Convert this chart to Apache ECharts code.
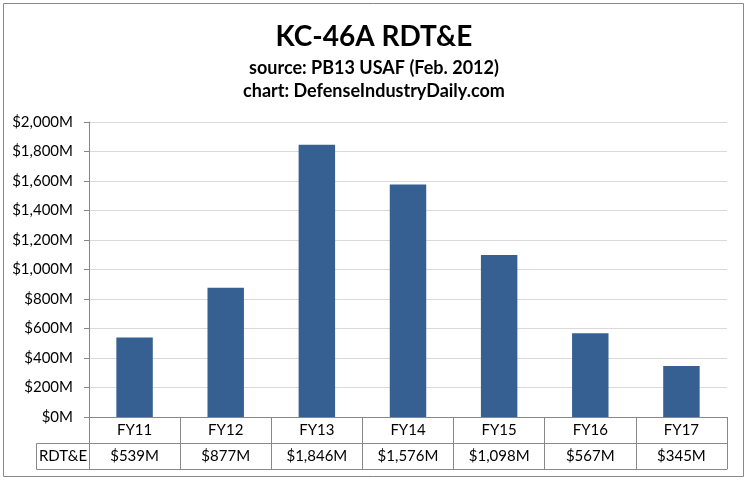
<!DOCTYPE html>
<html>
<head>
<meta charset="utf-8">
<title>KC-46A RDT&amp;E</title>
<script src="https://cdn.jsdelivr.net/npm/echarts@6/dist/echarts.min.js"></script>
<style>
    html, body { margin: 0; padding: 0; background: #fff; }
    #chart { width: 748px; height: 480px; }
</style>
</head>
<body>
<div id="chart"></div>
<script>
    // values in $M
    var years = ['FY11', 'FY12', 'FY13', 'FY14', 'FY15', 'FY16', 'FY17'];
    var rdte = [539, 877, 1846, 1576, 1098, 567, 345];
    var seriesName = 'RDT&E';

    var font = 'Lato, "Open Sans", sans-serif';
    var lineColor = '#888888';

    function money(v) {
        return '$' + Number(v).toLocaleString('en-US') + 'M';
    }

    var myChart = echarts.init(document.getElementById('chart'));
    myChart.setOption({
        animation: false,
        textStyle: { fontFamily: font },
        title: {
            text: 'KC-46A RDT&E',
            subtext: 'source: PB13 USAF (Feb. 2012)\nchart: DefenseIndustryDaily.com',
            left: 'center',
            top: 18,
            itemGap: 6,
            textStyle: { fontSize: 28, fontWeight: 'bold', color: '#000', fontFamily: font },
            subtextStyle: { fontSize: 18, fontWeight: 'bold', color: '#000', lineHeight: 23, fontFamily: font }
        },
        grid: { left: 89, right: 21, top: 122, bottom: 63 },
        xAxis: [
            {
                type: 'category',
                data: years,
                axisLine: { lineStyle: { color: lineColor } },
                axisTick: { show: true, interval: 0, length: 52, lineStyle: { color: lineColor } },
                axisLabel: { interval: 0, margin: 6, fontSize: 15, color: '#000', fontFamily: font }
            },
            {
                type: 'category',
                data: years,
                position: 'bottom',
                offset: 26,
                axisLine: { lineStyle: { color: lineColor } },
                axisTick: { show: false },
                axisLabel: {
                    interval: 0, margin: 6, fontSize: 15, color: '#000', fontFamily: font,
                    formatter: function (v, i) { return money(rdte[i]); }
                }
            },
            {
                type: 'category',
                data: years,
                position: 'bottom',
                offset: 52,
                axisLine: { lineStyle: { color: lineColor } },
                axisTick: { show: false },
                axisLabel: { show: false }
            }
        ],
        yAxis: {
            type: 'value',
            min: 0,
            max: 2000,
            interval: 200,
            axisLine: { show: true, lineStyle: { color: lineColor } },
            axisTick: { show: true, length: 5, lineStyle: { color: lineColor } },
            splitLine: { lineStyle: { color: '#D9D9D9' } },
            axisLabel: { margin: 16, fontSize: 15, color: '#000', fontFamily: font, formatter: money }
        },
        graphic: [
            {
                type: 'rect',
                shape: { x: 3.5, y: 3.5, width: 740, height: 473 },
                style: { fill: 'none', stroke: lineColor, lineWidth: 1 }
            },
            {
                type: 'rect',
                shape: { x: 36.5, y: 443.5, width: 53, height: 26 },
                style: { fill: 'none', stroke: lineColor, lineWidth: 1 }
            },
            {
                type: 'text',
                x: 63,
                y: 456,
                style: {
                    text: seriesName, fontSize: 15, fill: '#000', fontFamily: font,
                    align: 'center', verticalAlign: 'middle'
                }
            }
        ],
        series: [
            {
                name: seriesName,
                type: 'bar',
                barWidth: '40%',
                itemStyle: { color: '#376092' },
                data: rdte
            }
        ]
    });
</script>
</body>
</html>
